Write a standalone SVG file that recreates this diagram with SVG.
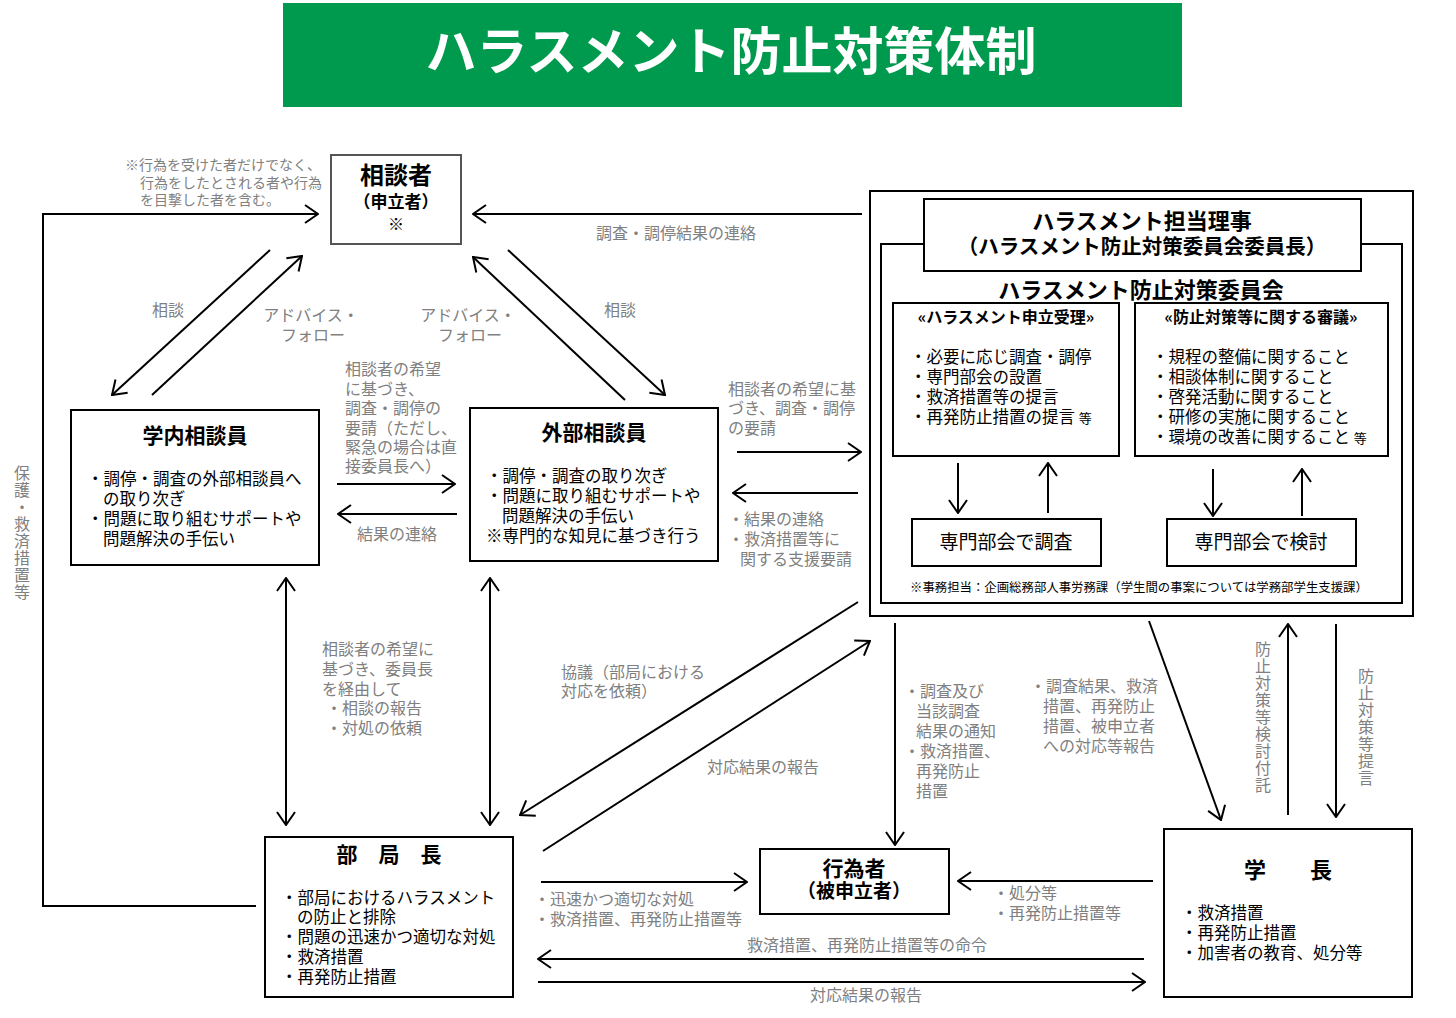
<svg xmlns="http://www.w3.org/2000/svg" width="1456" height="1018" viewBox="0 0 1456 1018">
<defs>
<marker id="ah" viewBox="0 0 16 20" refX="15" refY="10" markerWidth="16" markerHeight="20" markerUnits="userSpaceOnUse" orient="auto-start-reverse">
<path d="M2,1 L15,10 L2,19" fill="none" stroke="#000" stroke-width="2"/>
</marker>
</defs>
<style>
text{font-family:"Noto Sans CJK JP","Noto Sans CJK SC",sans-serif;}
.g{fill:#808080;font-size:16px;}
.b{font-weight:bold;}
.box{fill:#fff;stroke:#000;stroke-width:2;}
.ln{stroke:#000;stroke-width:2;fill:none;marker-end:url(#ah);}
.dbl{marker-start:url(#ah);}
.i{font-size:16.5px;fill:#000;}
.c{text-anchor:middle;}
.v{fill:#808080;font-size:16px;writing-mode:vertical-rl;letter-spacing:1px;}
</style>
<rect width="1456" height="1018" fill="#fff"/>

<g id="title">
<rect x="283" y="3" width="899" height="104" fill="#009A4E"/>
<text x="731" y="70" class="c b" font-size="51" fill="#fff">ハラスメント防止対策体制</text>
</g>

<g id="node-soudansha">
<rect x="331" y="155" width="130" height="89" fill="#fff" stroke="#555" stroke-width="2"/>
<text x="396" y="184" class="c b" font-size="24">相談者</text>
<text x="396" y="208" class="c b" font-size="17">（申立者）</text>
<text x="396" y="230" class="c" font-size="16">※</text>
</g>
<g id="note-soudansha" fill="#808080" font-size="14">
<text x="125" y="170">※行為を受けた者だけでなく、</text>
<text x="140" y="188">行為をしたとされる者や行為</text>
<text x="140" y="205">を目撃した者を含む。</text>
</g>

<g id="node-gakunai">
<rect x="71" y="410" width="248" height="155" class="box"/>
<text x="195" y="443" class="c b" font-size="21">学内相談員</text>
<text x="87" y="485" class="i">・調停・調査の外部相談員へ</text>
<text x="103" y="505" class="i">の取り次ぎ</text>
<text x="87" y="525" class="i">・問題に取り組むサポートや</text>
<text x="103" y="545" class="i">問題解決の手伝い</text>
</g>

<g id="node-gaibu">
<rect x="470" y="408" width="248" height="153" class="box"/>
<text x="594" y="440" class="c b" font-size="21">外部相談員</text>
<text x="486" y="482" class="i">・調停・調査の取り次ぎ</text>
<text x="486" y="502" class="i">・問題に取り組むサポートや</text>
<text x="502" y="522" class="i">問題解決の手伝い</text>
<text x="486" y="542" class="i">※専門的な知見に基づき行う</text>
</g>

<g id="node-committee">
<rect x="870" y="191" width="543" height="425" class="box"/>
<rect x="881" y="244" width="521" height="359" class="box"/>
<rect x="924" y="199" width="437" height="72" class="box"/>
<text x="1142" y="229" class="c b" font-size="22">ハラスメント担当理事</text>
<text x="1142" y="254" class="c b" font-size="20.5">（ハラスメント防止対策委員会委員長）</text>
<text x="1141" y="298" class="c b" font-size="22">ハラスメント防止対策委員会</text>
<g id="node-moushitate">
<rect x="893" y="303" width="226" height="153" class="box"/>
<text x="1006" y="323" class="c b" font-size="16">«ハラスメント申立受理»</text>
<text x="910" y="363" class="i">・必要に応じ調査・調停</text>
<text x="910" y="383" class="i">・専門部会の設置</text>
<text x="910" y="403" class="i">・救済措置等の提言</text>
<text x="910" y="423" class="i">・再発防止措置の提言 <tspan font-size="13">等</tspan></text>
</g>
<g id="node-shingi">
<rect x="1135" y="303" width="253" height="153" class="box"/>
<text x="1261" y="323" class="c b" font-size="16">«防止対策等に関する審議»</text>
<text x="1152" y="363" class="i">・規程の整備に関すること</text>
<text x="1152" y="383" class="i">・相談体制に関すること</text>
<text x="1152" y="403" class="i">・啓発活動に関すること</text>
<text x="1152" y="423" class="i">・研修の実施に関すること</text>
<text x="1152" y="443" class="i">・環境の改善に関すること <tspan font-size="13">等</tspan></text>
</g>
<g id="node-chousa">
<rect x="912" y="519" width="189" height="47" class="box"/>
<text x="1006" y="549" class="c" font-size="19">専門部会で調査</text>
</g>
<g id="node-kentou">
<rect x="1167" y="519" width="189" height="47" class="box"/>
<text x="1261" y="549" class="c" font-size="19">専門部会で検討</text>
</g>
<text x="910" y="592" font-size="12.4">※事務担当：企画総務部人事労務課（学生間の事案については学務部学生支援課）</text>
</g>

<g id="node-bukyokucho">
<rect x="265" y="837" width="248" height="160" class="box"/>
<text x="389" y="862" class="c b" font-size="21">部　局　長</text>
<text x="281" y="904" class="i">・部局におけるハラスメント</text>
<text x="297" y="923" class="i">の防止と排除</text>
<text x="281" y="943" class="i">・問題の迅速かつ適切な対処</text>
<text x="281" y="963" class="i">・救済措置</text>
<text x="281" y="983" class="i">・再発防止措置</text>
</g>

<g id="node-koisha">
<rect x="760" y="849" width="189" height="65" class="box"/>
<text x="854" y="876" class="c b" font-size="21">行為者</text>
<text x="854" y="898" class="c b" font-size="19">（被申立者）</text>
</g>

<g id="node-gakucho">
<rect x="1164" y="829" width="248" height="168" class="box"/>
<text x="1288" y="878" class="c b" font-size="22">学　　長</text>
<text x="1181" y="919" class="i">・救済措置</text>
<text x="1181" y="939" class="i">・再発防止措置</text>
<text x="1181" y="959" class="i">・加害者の教育、処分等</text>
</g>

<g id="connectors">
<polyline class="ln" points="256,906 43,906 43,214 318,214"/>
<line class="ln" x1="862" y1="214" x2="473" y2="214"/>
<line class="ln" x1="270" y1="250" x2="112" y2="395"/>
<line class="ln" x1="152" y1="395" x2="302" y2="256"/>
<line class="ln" x1="625" y1="400" x2="473" y2="257"/>
<line class="ln" x1="508" y1="250" x2="665" y2="395"/>
<line class="ln" x1="337" y1="484" x2="455" y2="484"/>
<line class="ln" x1="457" y1="514" x2="338" y2="514"/>
<line class="ln" x1="737" y1="452" x2="861" y2="452"/>
<line class="ln" x1="858" y1="493" x2="733" y2="493"/>
<line class="ln" x1="958" y1="463" x2="958" y2="513"/>
<line class="ln" x1="1048" y1="513" x2="1048" y2="463"/>
<line class="ln" x1="1213" y1="469" x2="1213" y2="516"/>
<line class="ln" x1="1302" y1="516" x2="1302" y2="469"/>
<line class="ln dbl" x1="286" y1="578" x2="286" y2="825"/>
<line class="ln dbl" x1="490" y1="578" x2="490" y2="825"/>
<line class="ln" x1="858" y1="602" x2="520" y2="815"/>
<line class="ln" x1="543" y1="851" x2="870" y2="641"/>
<line class="ln" x1="895" y1="623" x2="895" y2="845"/>
<line class="ln" x1="1149" y1="621" x2="1221" y2="820"/>
<line class="ln" x1="1288" y1="815" x2="1288" y2="624"/>
<line class="ln" x1="1336" y1="624" x2="1336" y2="817"/>
<line class="ln" x1="541" y1="882" x2="747" y2="882"/>
<line class="ln" x1="1153" y1="881" x2="958" y2="881"/>
<line class="ln" x1="1144" y1="959" x2="538" y2="959"/>
<line class="ln" x1="538" y1="982" x2="1145" y2="982"/>

<g id="connector-labels">
<text class="g c" x="676" y="239">調査・調停結果の連絡</text>
<text class="g c" x="168" y="316">相談</text>
<text class="g c" x="311" y="321">アドバイス・</text>
<text class="g c" x="313" y="341">フォロー</text>
<text class="g c" x="468" y="321">アドバイス・</text>
<text class="g c" x="470" y="341">フォロー</text>
<text class="g c" x="620" y="316">相談</text>
<text class="g" x="345" y="375">相談者の希望</text>
<text class="g" x="345" y="395">に基づき、</text>
<text class="g" x="345" y="414">調査・調停の</text>
<text class="g" x="345" y="434">要請（ただし、</text>
<text class="g" x="345" y="453">緊急の場合は直</text>
<text class="g" x="345" y="472">接委員長へ）</text>
<text class="g c" x="397" y="540">結果の連絡</text>
<text class="g" x="728" y="395">相談者の希望に基</text>
<text class="g" x="728" y="414">づき、調査・調停</text>
<text class="g" x="728" y="434">の要請</text>
<text class="g" x="728" y="525">・結果の連絡</text>
<text class="g" x="728" y="545">・救済措置等に</text>
<text class="g" x="740" y="565">関する支援要請</text>
<text class="g" x="322" y="655">相談者の希望に</text>
<text class="g" x="322" y="675">基づき、委員長</text>
<text class="g" x="322" y="695">を経由して</text>
<text class="g" x="326" y="714">・相談の報告</text>
<text class="g" x="326" y="734">・対処の依頼</text>
<text class="g" x="561" y="678">協議（部局における</text>
<text class="g" x="561" y="697">対応を依頼）</text>
<text class="g" x="707" y="773">対応結果の報告</text>
<text class="g" x="904" y="697">・調査及び</text>
<text class="g" x="916" y="717">当該調査</text>
<text class="g" x="916" y="737">結果の通知</text>
<text class="g" x="904" y="757">・救済措置、</text>
<text class="g" x="916" y="777">再発防止</text>
<text class="g" x="916" y="797">措置</text>
<text class="g" x="1030" y="692">・調査結果、救済</text>
<text class="g" x="1043" y="712">措置、再発防止</text>
<text class="g" x="1043" y="732">措置、被申立者</text>
<text class="g" x="1043" y="752">への対応等報告</text>
<text class="g" x="534" y="905">・迅速かつ適切な対処</text>
<text class="g" x="534" y="925">・救済措置、再発防止措置等</text>
<text class="g" x="993" y="899">・処分等</text>
<text class="g" x="993" y="919">・再発防止措置等</text>
<text class="g c" x="867" y="951">救済措置、再発防止措置等の命令</text>
<text class="g c" x="866" y="1001">対応結果の報告</text>
<text class="v" x="22" y="465">保護・救済措置等</text>
<text class="v" x="1263" y="641">防止対策等検討付託</text>
<text class="v" x="1366" y="668">防止対策等提言</text>
</g>
</g>
</svg>
